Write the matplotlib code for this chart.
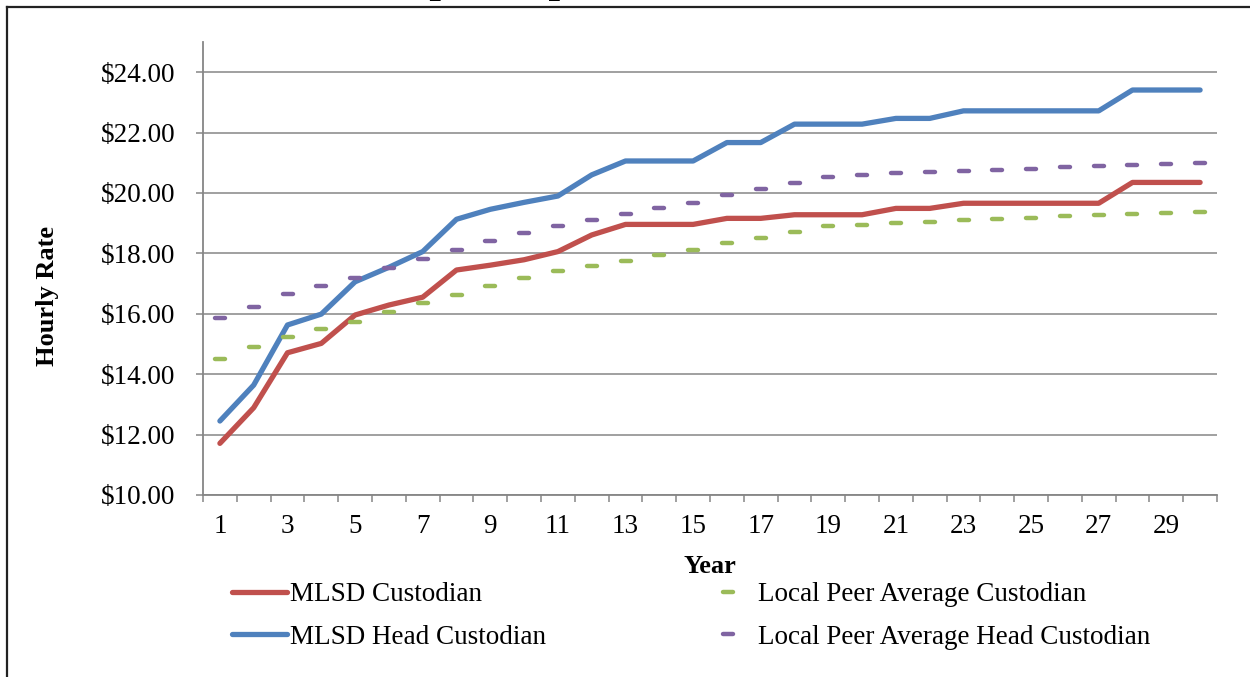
import matplotlib
matplotlib.use("Agg")
import matplotlib.pyplot as plt
from matplotlib.lines import Line2D
from matplotlib.markers import MarkerStyle
from matplotlib.ticker import FuncFormatter

plt.rcParams["font.family"] = ["Liberation Serif", "DejaVu Serif"]

years = list(range(1, 31))
mlsd_cust = [11.71, 12.89, 14.71, 15.02, 15.96, 16.29, 16.55, 17.45, 17.61, 17.79,
             18.06, 18.61, 18.96, 18.96, 18.96, 19.16, 19.16, 19.28, 19.28, 19.28,
             19.49, 19.49, 19.66, 19.66, 19.66, 19.66, 19.66, 20.35, 20.35, 20.35]
mlsd_head = [12.45, 13.64, 15.63, 15.99, 17.06, 17.54, 18.06, 19.13, 19.46, 19.69,
             19.90, 20.60, 21.06, 21.06, 21.06, 21.67, 21.67, 22.28, 22.28, 22.28,
             22.47, 22.47, 22.72, 22.72, 22.72, 22.72, 22.72, 23.41, 23.41, 23.41]
peer_cust = [14.50, 14.89, 15.23, 15.50, 15.74, 16.07, 16.35, 16.63, 16.92, 17.20,
             17.41, 17.58, 17.75, 17.94, 18.11, 18.33, 18.52, 18.71, 18.91, 18.94,
             19.02, 19.05, 19.10, 19.13, 19.16, 19.23, 19.26, 19.29, 19.34, 19.37]
peer_head = [15.85, 16.24, 16.65, 16.91, 17.18, 17.52, 17.80, 18.11, 18.40, 18.69,
             18.92, 19.11, 19.29, 19.49, 19.68, 19.92, 20.13, 20.33, 20.54, 20.58,
             20.65, 20.68, 20.72, 20.75, 20.79, 20.85, 20.89, 20.93, 20.96, 21.00]
label_years = list(range(1, 30, 2))

W, H = 1250, 677
FS = 19.5
fig = plt.figure(figsize=(12.5, 6.77), dpi=100)
ax = fig.add_axes([203 / W, 1 - 495 / H, 1014 / W, 453 / H])

grid_c = "#868686"
ax.set_ylim(10, 25)
ax.set_xlim(0.5, 30.5)
ax.set_yticks(range(10, 25, 2))
ax.yaxis.set_major_formatter(FuncFormatter(lambda v, p: f"${v:.2f}"))
ax.grid(axis="y", color=grid_c, lw=1.1)
ax.set_axisbelow(True)

# category boundaries get tick marks, labels sit at odd years
ax.set_xticks([y - 0.5 for y in years] + [30.5])
ax.set_xticklabels([])
ax.set_xticks(label_years, minor=True)
ax.set_xticklabels([str(y) for y in label_years], minor=True)
ax.tick_params(axis="x", which="major", length=5, width=1.1, color=grid_c, direction="out")
ax.tick_params(axis="x", which="minor", length=0, labelsize=FS, pad=14)
ax.tick_params(axis="y", length=5, width=1.1, color=grid_c, labelsize=FS, pad=15)

for s in ["top", "right"]:
    ax.spines[s].set_visible(False)
for s in ["left", "bottom"]:
    ax.spines[s].set_color(grid_c)
    ax.spines[s].set_linewidth(1.3)

solid = dict(lw=3.8, solid_capstyle="round", solid_joinstyle="round")
dash = MarkerStyle("_", capstyle="round")
ax.plot(years, mlsd_cust, color="#C0504D", label="MLSD Custodian", **solid)
ax.plot(years, mlsd_head, color="#4F81BD", label="MLSD Head Custodian", **solid)
ax.plot(years, peer_cust, ls="none", marker=dash, ms=7.6, mew=3.2, color="#9BBB59",
        label="Local Peer Average Custodian")
ax.plot(years, peer_head, ls="none", marker=dash, ms=7.6, mew=3.2, color="#8064A2",
        label="Local Peer Average Head Custodian")

ax.set_ylabel("Hourly Rate", fontsize=19, fontweight="bold")
ax.yaxis.set_label_coords(-0.142, 0.44)
ax.set_xlabel("Year", fontsize=19, fontweight="bold")
ax.xaxis.set_label_coords(0.5, -0.132)

fig.legend(loc="upper left", bbox_to_anchor=(232 / W, 1 - 582 / H), ncol=2,
           frameon=False, fontsize=FS, handlelength=2.03, handletextpad=0.11,
           columnspacing=5.7, labelspacing=0.66, borderpad=0, borderaxespad=0,
           numpoints=1)

# title sits mostly above the visible area, only descenders show
fig.text(181 / W, 1 + 8 / H, "Custodian Step Comparison", fontsize=30,
         fontweight="bold", ha="left", va="baseline")

# chart frame
fig.add_artist(Line2D([7 / W, 1], [1 - 7 / H, 1 - 7 / H], color="#222222", lw=1.6))
fig.add_artist(Line2D([7 / W, 7 / W], [0, 1 - 7 / H], color="#222222", lw=1.6))

fig.savefig("out.png", dpi=100)
